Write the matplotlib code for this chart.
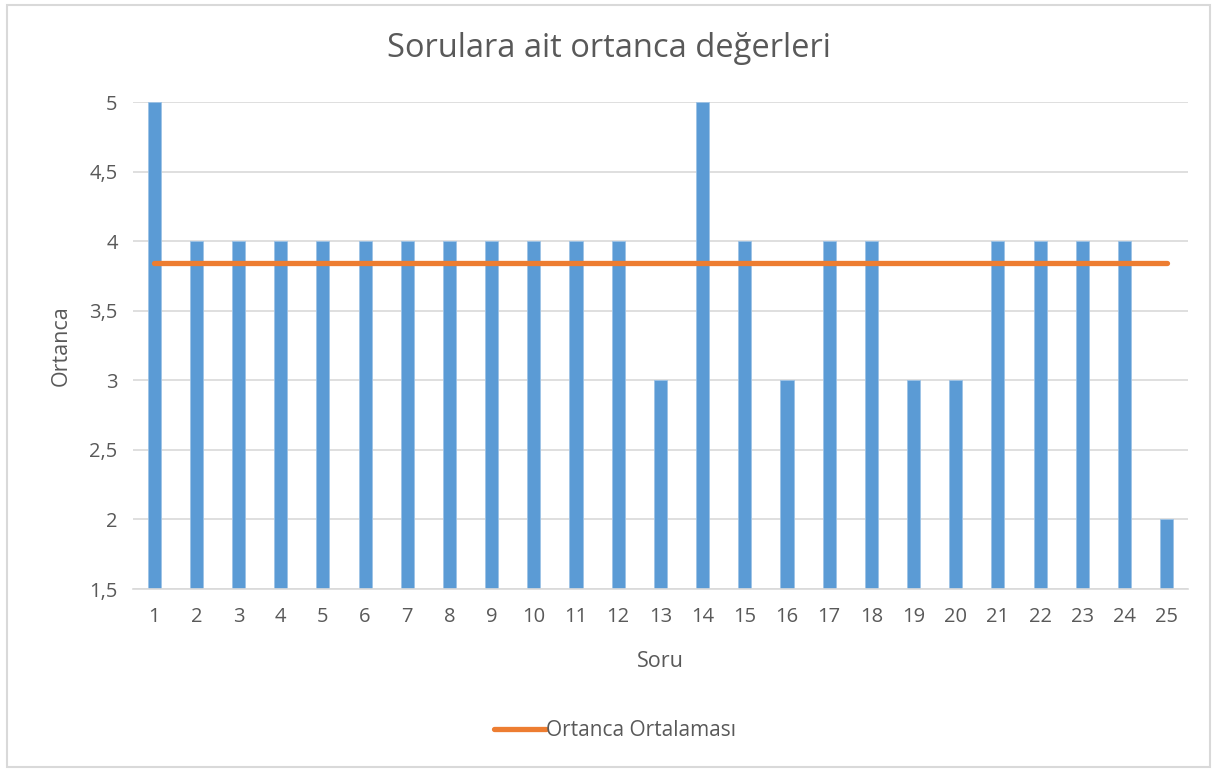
import matplotlib
matplotlib.use("Agg")
import matplotlib.pyplot as plt
from matplotlib.patches import Rectangle
from matplotlib.ticker import FuncFormatter

plt.rcParams['font.family'] = ['Open Sans', 'DejaVu Sans']

questions = list(range(1, 26))
medians = [5, 4, 4, 4, 4, 4, 4, 4, 4, 4, 4, 4, 3, 5, 4, 3, 4, 4, 3, 3, 4, 4, 4, 4, 2]
mean_median = sum(medians) / len(medians)
mean_line = [mean_median] * len(questions)

title = "Sorulara ait ortanca değerleri"
xlabel = "Soru"
ylabel = "Ortanca"
legend_label = "Ortanca Ortalaması"
yticks = [1.5, 2, 2.5, 3, 3.5, 4, 4.5, 5]

text_color = "#595959"
bar_color = "#5B9BD5"
line_color = "#ED7D31"
grid_color = "#D9D9D9"

fig = plt.figure(figsize=(12.17, 7.7), dpi=100)
fig.patches.append(Rectangle((0.006, 0.004), 0.988, 0.99, transform=fig.transFigure,
                             fill=False, edgecolor=grid_color, linewidth=1.5))
ax = fig.add_axes([0.1093, 0.235, 0.8667, 0.6325])

ax.bar(questions, medians, width=0.31, color=bar_color, edgecolor="#9DC3E6",
       linewidth=0.6, zorder=2)
ax.plot(questions, mean_line, color=line_color, linewidth=3.8,
        solid_capstyle='round', zorder=3, label=legend_label)

ax.set_xlim(0.5, 25.5)
ax.set_ylim(1.5, 5)
ax.set_yticks(yticks)
ax.yaxis.set_major_formatter(FuncFormatter(lambda v, p: (f"{v:g}").replace('.', ',')))
ax.set_xticks(questions)
ax.grid(axis='y', color=grid_color, linewidth=1.2, zorder=0)
ax.set_axisbelow(True)
for s in ['top', 'right', 'left']:
    ax.spines[s].set_visible(False)
ax.spines['bottom'].set_color(grid_color)
ax.spines['bottom'].set_linewidth(1.2)
ax.tick_params(axis='y', length=0, labelsize=14.5, colors=text_color, pad=11)
ax.tick_params(axis='x', length=0, labelsize=14.5, colors=text_color, pad=13)

ax.set_xlabel(xlabel, fontsize=15.5, color=text_color, labelpad=17)
ax.set_ylabel(ylabel, fontsize=15.5, color=text_color, labelpad=13)
fig.text(0.5, 0.937, title, ha='center', va='center', fontsize=23.5, color=text_color)

leg = fig.legend(loc='center', bbox_to_anchor=(0.505, 0.051), frameon=False,
                 fontsize=15, handlelength=2.5, handletextpad=0.0)
for t in leg.get_texts():
    t.set_color(text_color)

fig.savefig("out.png", dpi=100)
